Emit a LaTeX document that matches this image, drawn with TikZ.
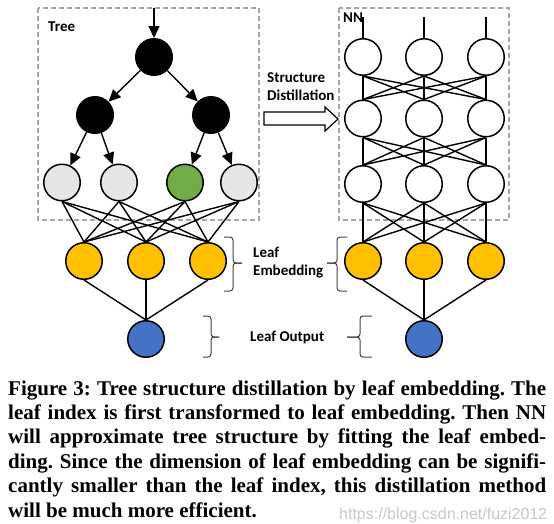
\documentclass[tikz,border=0pt]{standalone}
\usepackage{fontspec}
\setmainfont{Liberation Serif}
\newfontfamily\labfont{Carlito}
\newfontfamily\wmfont{Liberation Sans}
\usetikzlibrary{arrows.meta}
\definecolor{leafgray}{HTML}{E7E6E6}
\definecolor{leafgreen}{HTML}{70AD47}
\definecolor{embgold}{HTML}{FFC000}
\definecolor{outblue}{HTML}{4472C4}
\definecolor{boxgray}{HTML}{A6A6A6}
\definecolor{wmgray}{HTML}{C8C8C8}
\frenchspacing
\begin{document}
\begin{tikzpicture}[x=1pt,y=-1pt,
  nd/.style={circle,draw=black,line width=1.5pt,minimum size=36.5pt,inner sep=0pt},
  blacknode/.style={nd,fill=black},
  graynode/.style={nd,fill=leafgray},
  greennode/.style={nd,fill=leafgreen},
  whitenode/.style={nd,fill=white},
  goldnode/.style={nd,fill=embgold},
  bluenode/.style={nd,fill=outblue},
  edge/.style={line width=1.4pt,draw=black},
  arr/.style={edge,-{Triangle[length=12pt,width=11pt]}},
  dashbox/.style={draw=boxgray,line width=1.2pt,dash pattern=on 5pt off 3pt},
  lbl/.style={anchor=base west,inner sep=0pt,font=\labfont\bfseries\fontsize{15}{18}\selectfont},
  captionline/.style={anchor=base west,inner sep=0pt,font=\bfseries\fontsize{21}{24}\selectfont},
  brc/.style={draw=black!75,line width=1pt,rounded corners=3pt},
  hollow/.style={draw=black,line width=1.2pt,fill=white}]
\useasboundingbox (0,0) rectangle (554,523);
% watermark
\node[anchor=base west,inner sep=0pt,text=wmgray,font=\wmfont\fontsize{16}{18}\selectfont] (wm) at (339,519) {https://blog.csdn.net/fuzi2012};
% dashed boxes
\draw[dashbox] (38,8) rectangle (259,220);
\draw[dashbox] (339,8) rectangle (509,220);
% labels
\node[lbl] (treelbl) at (48,31) {Tree};
\node[lbl] (nnlbl) at (343,22) {NN};
\node[lbl] (sd1) at (267,82) {Structure};
\node[lbl] (sd2) at (267,100) {Distillation};
\node[lbl] (le1) at (253,257) {Leaf};
\node[lbl] (le2) at (253,275) {Embedding};
\node[lbl] (lo) at (250,341) {Leaf Output};
% hollow arrow
\draw[hollow] (264,112) -- (325,112) -- (325,107) -- (338,119) -- (325,131) -- (325,125) -- (264,125) -- cycle;
% tree nodes
\coordinate (tin) at (154,8);
\node[blacknode] (r) at (154,57) {};
\node[blacknode] (a1) at (95,115) {};
\node[blacknode] (a2) at (211,115) {};
\node[graynode] (l1) at (62,182.5) {};
\node[graynode] (l2) at (119,182.5) {};
\node[greennode] (l3) at (185,182.5) {};
\node[graynode] (l4) at (239,182.5) {};
\node[goldnode] (ty1) at (84,261) {};
\node[goldnode] (ty2) at (146,261) {};
\node[goldnode] (ty3) at (208,261) {};
\node[bluenode] (tb) at (146,339) {};
\draw[arr] (tin) -- (r);
\draw[arr] (r) -- (a1);
\draw[arr] (r) -- (a2);
\draw[arr] (a1) -- (l1);
\draw[arr] (a1) -- (l2);
\draw[arr] (a2) -- (l3);
\draw[arr] (a2) -- (l4);
\foreach \i in {1,2,3,4} {
  \foreach \j in {1,2,3} {
    \draw[edge] (l\i.south) -- (ty\j.north);
  }
}
\foreach \j in {1,2,3} {
  \draw[edge] (ty\j.south) -- (tb.north);
}
% NN nodes
\foreach \c/\x in {1/363,2/424,3/486} {
  \coordinate (tp\c) at (\x,17);
  \node[whitenode] (n1\c) at (\x,57) {};
  \node[whitenode] (n2\c) at (\x,118.5) {};
  \node[whitenode] (n3\c) at (\x,184) {};
  \node[goldnode] (ny\c) at (\x,261) {};
  \draw[edge] (tp\c) -- (n1\c.north);
}
\node[bluenode] (nb) at (424,339) {};
\foreach \i in {1,2,3} {
  \foreach \j in {1,2,3} {
    \draw[edge] (n1\i.south) -- (n2\j.north);
    \draw[edge] (n2\i.south) -- (n3\j.north);
    \draw[edge] (n3\i.south) -- (ny\j.north);
  }
  \draw[edge] (ny\i.south) -- (nb.north);
}
% braces
\draw[brc] (242,263) -- (233,263) -- (233,237) -- (224,237);
\draw[brc] (242,263) -- (233,263) -- (233,291) -- (224,291);
\draw[brc] (327,263) -- (337,263) -- (337,237) -- (347,237);
\draw[brc] (327,263) -- (337,263) -- (337,291) -- (347,291);
\draw[brc] (219,337) -- (211,337) -- (211,316) -- (203,316);
\draw[brc] (219,337) -- (211,337) -- (211,357) -- (203,357);
\draw[brc] (347,337) -- (360,337) -- (360,316) -- (372,316);
\draw[brc] (347,337) -- (360,337) -- (360,357) -- (372,357);
% caption
\node[captionline] (cap1) at (8,395) {\makebox[538pt][s]{Figure 3: Tree structure distillation by leaf embedding. The}};
\node[captionline] (cap2) at (8,419) {\makebox[538pt][s]{leaf index is first transformed to leaf embedding. Then NN}};
\node[captionline] (cap3) at (8,443.5) {\makebox[538pt][s]{will approximate tree structure by fitting the leaf embed-}};
\node[captionline] (cap4) at (8,468) {\makebox[538pt][s]{ding. Since the dimension of leaf embedding can be signifi-}};
\node[captionline] (cap5) at (8,492.5) {\makebox[538pt][s]{cantly smaller than the leaf index, this distillation method}};
\node[captionline] (cap6) at (8,517) {will be much more efficient.};
\end{tikzpicture}
\end{document}
